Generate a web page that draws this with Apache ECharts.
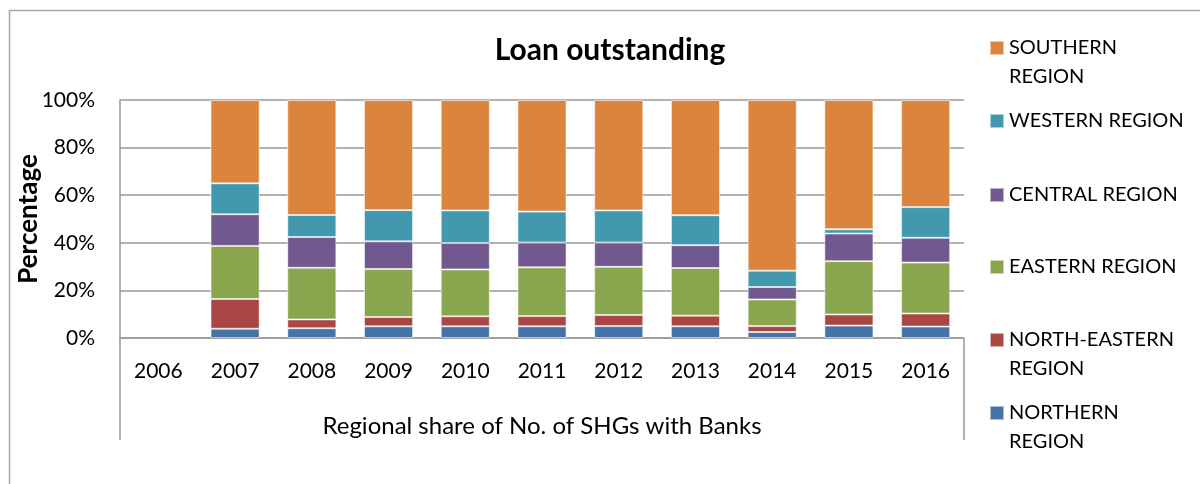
<!DOCTYPE html>
<html>
<head>
<meta charset="utf-8">
<script src="https://cdn.jsdelivr.net/npm/echarts@6/dist/echarts.min.js"></script>
<style>
html,body{margin:0;padding:0;background:#fff;}
#chart{width:1200px;height:484px;}
</style>
</head>
<body>
<div id="chart"></div>
<script>
const years = ['2006','2007','2008','2009','2010','2011','2012','2013','2014','2015','2016'];
const yTicks = [0, 20, 40, 60, 80, 100];
// values in % (bottom to top of stack)
const northern     = [null, 3.9, 4.1, 4.9, 4.9, 4.9, 5.0, 4.9, 2.5, 5.2, 4.8];
const northEastern = [null, 12.5, 3.7, 3.9, 4.2, 4.3, 4.7, 4.5, 2.5, 4.7, 5.5];
const eastern      = [null, 22.3, 21.7, 20.2, 19.7, 20.5, 20.2, 20.0, 11.2, 22.4, 21.4];
const central      = [null, 13.3, 12.9, 11.6, 11.1, 10.4, 10.2, 9.6, 5.2, 11.6, 10.4];
const western      = [null, 13.0, 9.3, 13.1, 13.7, 13.0, 13.5, 12.6, 6.9, 1.8, 12.9];
const southern     = [null, 35.0, 48.3, 46.3, 46.4, 46.9, 46.4, 48.4, 71.7, 54.3, 45.0];

const seriesDefs = [
  {name: 'NORTHERN REGION', data: northern, color: '#4572A7', label: ' \nNORTHERN\nREGION'},
  {name: 'NORTH-EASTERN REGION', data: northEastern, color: '#AA4643', label: ' \nNORTH-EASTERN\nREGION'},
  {name: 'EASTERN REGION', data: eastern, color: '#89A54E', label: 'EASTERN REGION'},
  {name: 'CENTRAL REGION', data: central, color: '#71588F', label: 'CENTRAL REGION'},
  {name: 'WESTERN REGION', data: western, color: '#4198AF', label: 'WESTERN REGION'},
  {name: 'SOUTHERN REGION', data: southern, color: '#DB843D', label: ' \nSOUTHERN\nREGION'}
];

const FONT = 'Lato';
const legendTops = {
  'SOUTHERN REGION': 4.5,
  'WESTERN REGION': 106.5,
  'CENTRAL REGION': 180.5,
  'EASTERN REGION': 252.5,
  'NORTH-EASTERN REGION': 296.5,
  'NORTHERN REGION': 369.5
};

const legends = seriesDefs.map(s => ({
  show: true,
  data: [s.name],
  left: 989,
  top: legendTops[s.name],
  padding: 0,
  itemWidth: 14,
  itemHeight: 14,
  icon: 'rect',
  formatter: () => s.label,
  textStyle: {fontFamily: FONT, fontSize: 20, color: '#000', lineHeight: 29}
}));

const chart = echarts.init(document.getElementById('chart'), null, {renderer: 'canvas'});
chart.setOption({
  backgroundColor: '#fff',
  animation: false,
  textStyle: {fontFamily: FONT},
  title: {
    text: 'Loan outstanding',
    left: 605,
    top: 30,
    textAlign: 'center',
    textStyle: {fontFamily: FONT, fontWeight: 'bold', fontSize: 30, color: '#000'}
  },
  legend: legends,
  grid: {left: 120, right: 236, top: 100, bottom: 146, containLabel: false},
  xAxis: {
    type: 'category',
    data: years,
    name: 'Regional share of No. of SHGs with Banks',
    nameLocation: 'middle',
    nameGap: 76,
    nameTextStyle: {fontFamily: FONT, fontSize: 24, color: '#000'},
    axisLine: {show: true, lineStyle: {color: '#999', width: 1.5}},
    axisTick: {show: false},
    axisLabel: {fontFamily: FONT, fontSize: 21, color: '#000', margin: 23}
  },
  yAxis: {
    type: 'value',
    min: 0, max: 100, interval: 20,
    name: 'Percentage',
    nameLocation: 'middle',
    nameGap: 78,
    nameMoveOverlap: false,
    nameTextStyle: {fontFamily: FONT, fontWeight: 'bold', fontSize: 26, color: '#000'},
    axisLine: {show: true, lineStyle: {color: '#999', width: 1.5}},
    axisTick: {show: false},
    splitLine: {show: true, lineStyle: {color: '#999', width: 1.5}},
    axisLabel: {
      fontFamily: FONT, fontSize: 21, color: '#000', margin: 25,
      formatter: v => yTicks.indexOf(v) >= 0 ? v + '%' : ''
    }
  },
  series: seriesDefs.map(s => ({
    name: s.name,
    type: 'bar',
    stack: 'total',
    barWidth: '64%',
    data: s.data,
    itemStyle: {color: s.color, borderColor: 'rgba(255,255,255,0.55)', borderWidth: 1}
  })),
  graphic: [
    {type: 'rect', left: 7, top: 8, shape: {width: 1300, height: 600}, style: {fill: 'none', stroke: '#a6a6a6', lineWidth: 1.5}, silent: true, z: -1},
    {type: 'line', shape: {x1: 120, y1: 338, x2: 120, y2: 440}, style: {stroke: '#999', lineWidth: 1.5}, silent: true},
    {type: 'line', shape: {x1: 964, y1: 338, x2: 964, y2: 440}, style: {stroke: '#999', lineWidth: 1.5}, silent: true}
  ]
});
</script>
</body>
</html>
